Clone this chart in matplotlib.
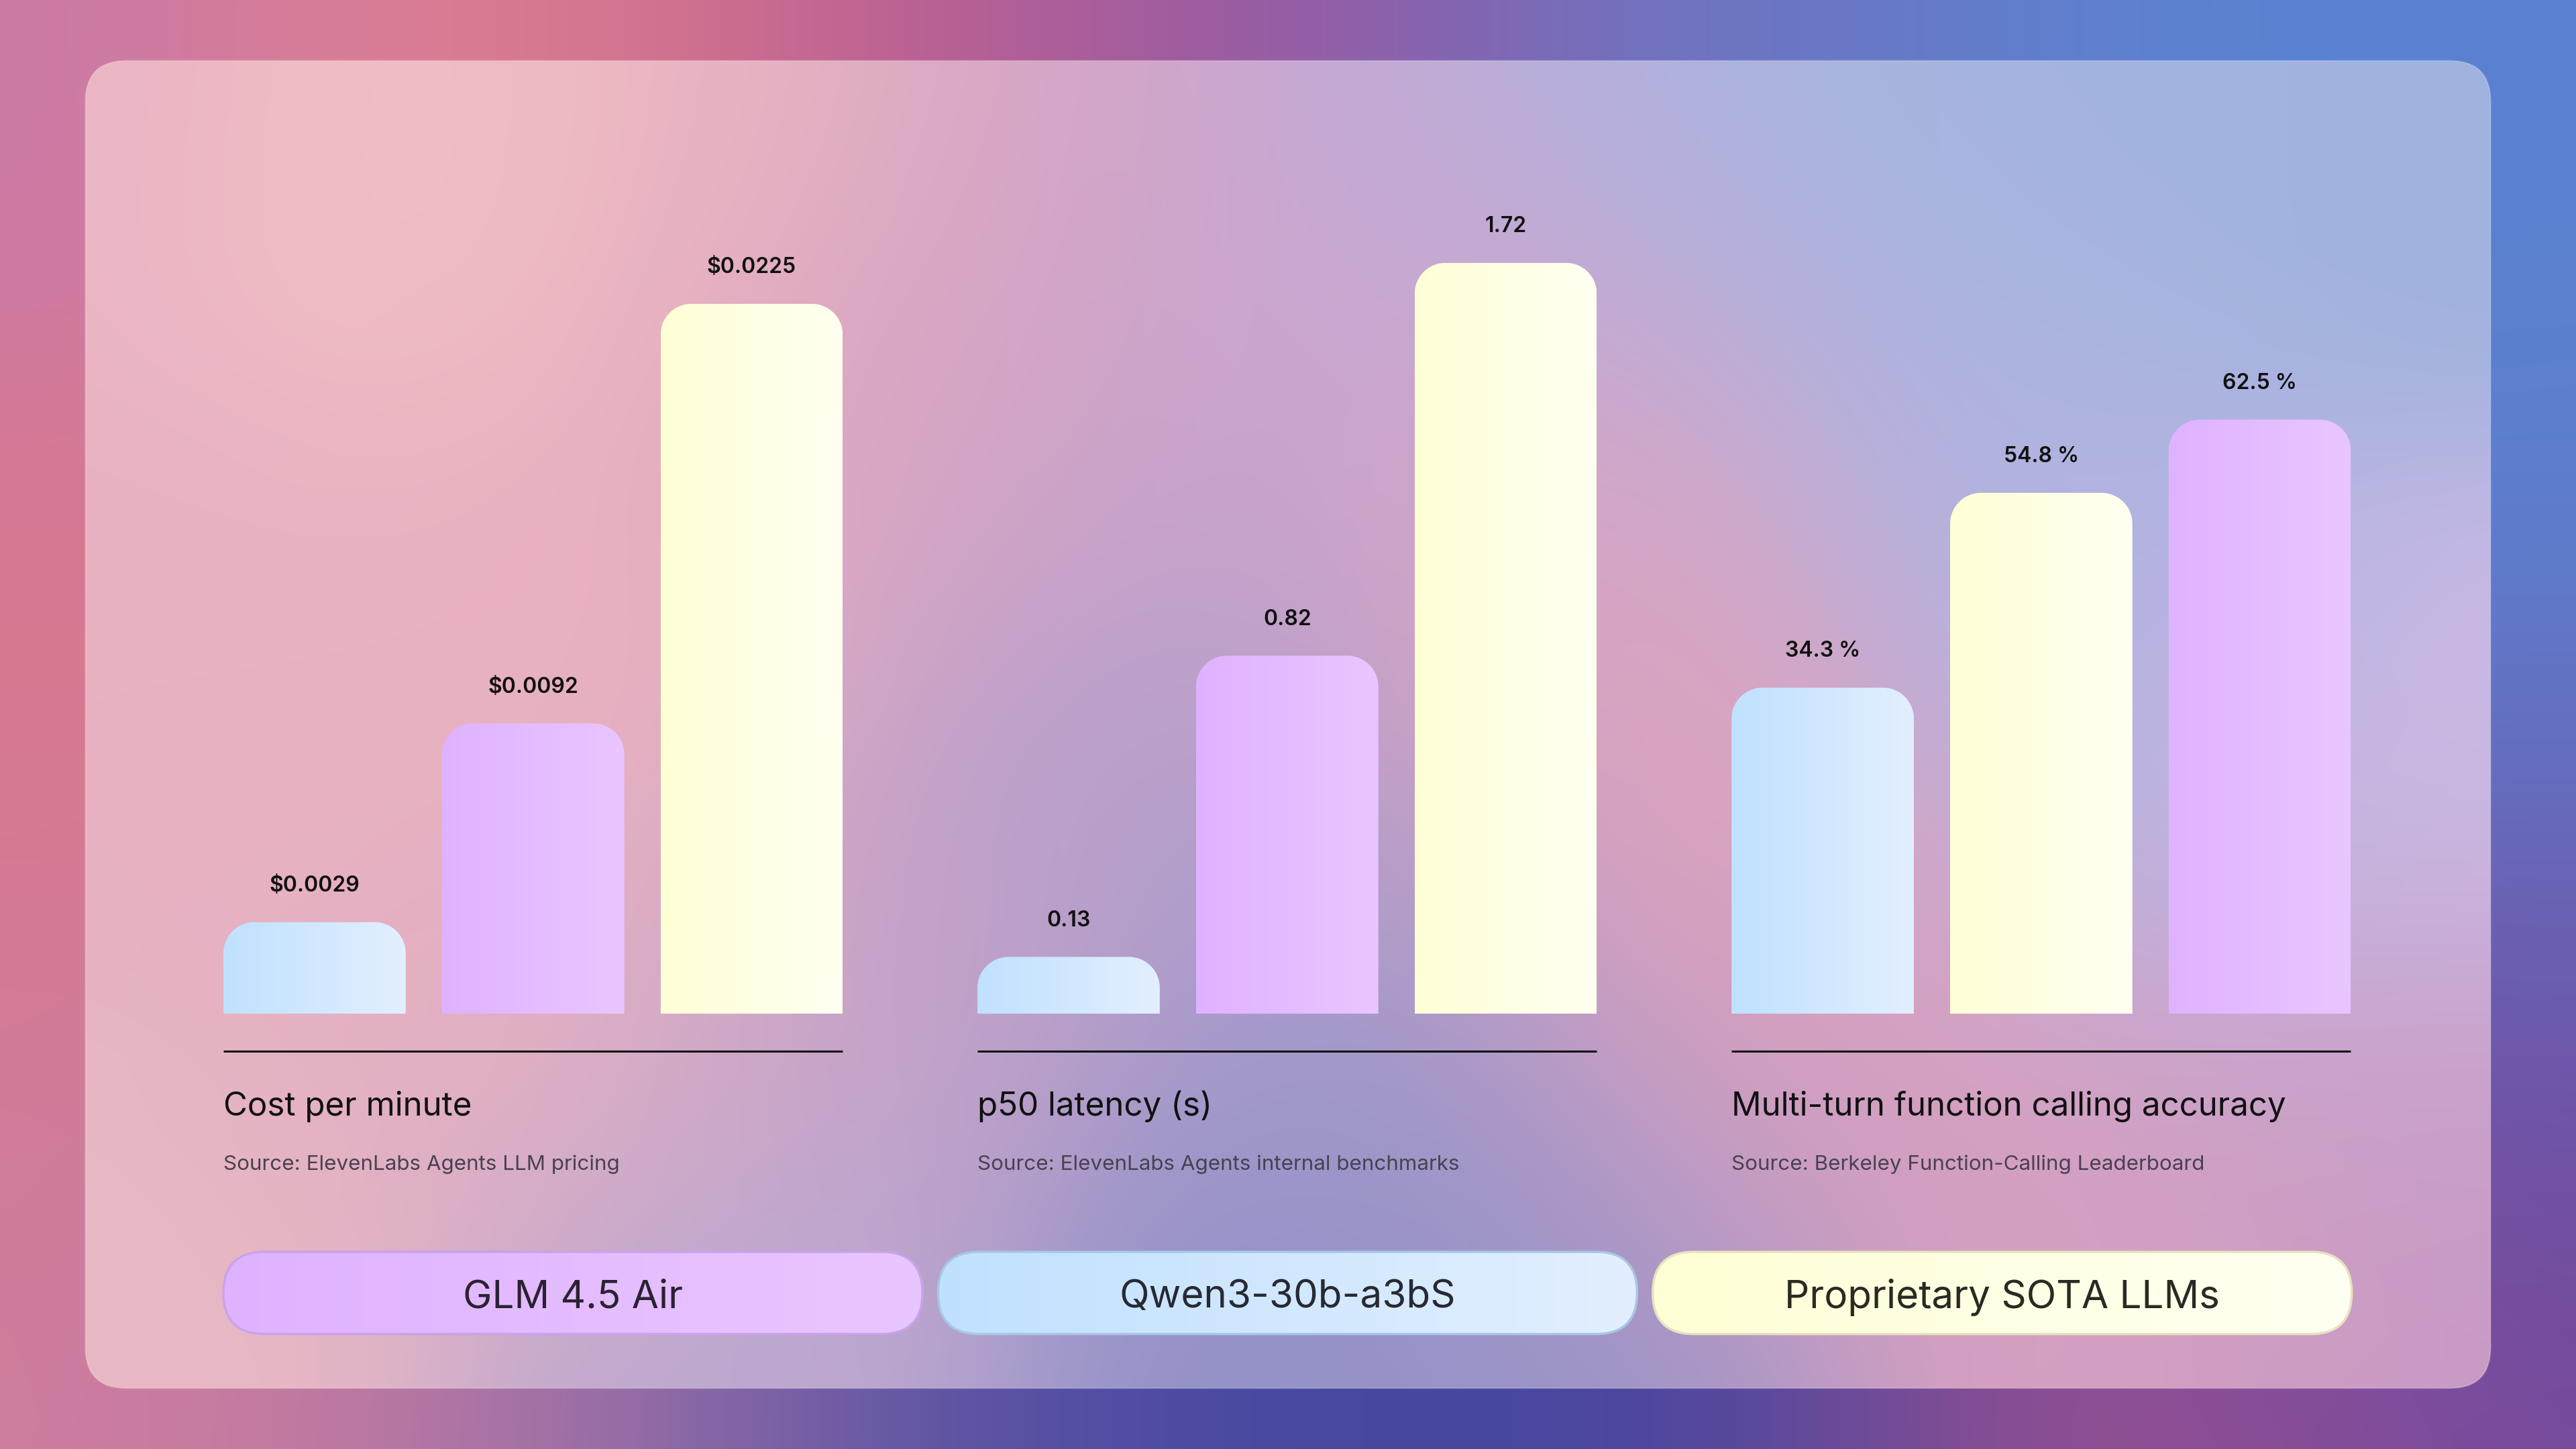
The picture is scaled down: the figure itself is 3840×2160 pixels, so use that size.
import numpy as np
import matplotlib
matplotlib.use("Agg")
import matplotlib.pyplot as plt
from matplotlib.patches import FancyBboxPatch, PathPatch
from matplotlib.path import Path
from matplotlib.colors import to_rgb

# ---------------- data ----------------
models = ["GLM 4.5 Air", "Qwen3-30b-a3bS", "Proprietary SOTA LLMs"]

metric_titles = ["Cost per minute", "p50 latency (s)", "Multi-turn function calling accuracy"]
metric_sources = ["Source: ElevenLabs Agents LLM pricing",
                  "Source: ElevenLabs Agents internal benchmarks",
                  "Source: Berkeley Function-Calling Leaderboard"]

cost_models = ["Qwen3-30b-a3bS", "GLM 4.5 Air", "Proprietary SOTA LLMs"]
cost_values = [0.0029, 0.0092, 0.0225]
cost_labels = ["$0.0029", "$0.0092", "$0.0225"]

latency_models = ["Qwen3-30b-a3bS", "GLM 4.5 Air", "Proprietary SOTA LLMs"]
latency_values = [0.13, 0.82, 1.72]
latency_labels = ["0.13", "0.82", "1.72"]

accuracy_models = ["Qwen3-30b-a3bS", "Proprietary SOTA LLMs", "GLM 4.5 Air"]
accuracy_values = [34.3, 54.8, 62.5]
accuracy_labels = ["34.3 %", "54.8 %", "62.5 %"]

axis_max = [0.0238, 1.72, 79.0]

# ---------------- style ----------------
model_colors = {
    "GLM 4.5 Air": ("#dfb2ff", "#e9c6ff"),
    "Qwen3-30b-a3bS": ("#c0e1ff", "#e3effe"),
    "Proprietary SOTA LLMs": ("#ffffd6", "#fffff2"),
}
pill_edges = {
    "GLM 4.5 Air": "#c9a3ea",
    "Qwen3-30b-a3bS": "#a9c6e6",
    "Proprietary SOTA LLMs": "#e6e2bf",
}
pill_text = {
    "GLM 4.5 Air": "#2a2233",
    "Qwen3-30b-a3bS": "#262a33",
    "Proprietary SOTA LLMs": "#2a2a22",
}

FONT = ["Inter", "DejaVu Sans"]
plt.rcParams["font.family"] = FONT

W, H = 3840, 2160
S = W / 1568.0  # layout unit conversion

fig = plt.figure(figsize=(W / 100, H / 100), dpi=100)
bg = fig.add_axes([0, 0, 1, 1])
bg.set_xlim(0, W)
bg.set_ylim(H, 0)
bg.axis("off")


def field(points, nx, ny, sigma):
    xs = np.linspace(0, 1568, nx)
    ys = np.linspace(0, 882, ny)
    X, Y = np.meshgrid(xs, ys)
    num = np.zeros((ny, nx, 3))
    den = np.zeros((ny, nx))
    for (px, py, c) in points:
        w = np.exp(-((X - px) ** 2 + (Y - py) ** 2) / (2 * sigma ** 2)) + 1e-12
        num += w[..., None] * np.array(to_rgb(c))
        den += w
    return np.clip(num / den[..., None], 0, 1)


outer_pts = [
    (0, 0, "#c87aa8"), (300, 0, "#e08090"), (560, 0, "#c2608c"),
    (760, 0, "#9058a8"), (1050, 0, "#6a78c4"), (1400, 0, "#5a82d2"),
    (1568, 0, "#5a82d2"), (0, 440, "#d87890"), (1568, 300, "#5c80d0"),
    (1568, 560, "#6a68b8"), (1568, 760, "#6a48a0"),
    (0, 700, "#d47c98"), (0, 882, "#d080a0"), (120, 882, "#cc7ca0"),
    (330, 882, "#9a70a8"), (600, 882, "#5c54a4"), (800, 882, "#4044a0"),
    (1000, 882, "#4a48a0"), (1300, 882, "#a0508e"), (1568, 882, "#7a4a9c"),
]
inner_pts = [
    (60, 50, "#eab4c4"), (250, 80, "#f2c0c4"), (450, 60, "#eab4c0"),
    (650, 60, "#d6a4c6"), (850, 60, "#c0acd8"), (1050, 60, "#a8b4e0"),
    (1300, 60, "#a2b4e0"), (1480, 80, "#a0b2de"),
    (80, 400, "#e8b2c2"), (330, 380, "#eab2c0"), (560, 250, "#dea6c0"),
    (720, 440, "#b4a0cc"), (700, 250, "#c6a2cc"), (880, 230, "#caa8d2"),
    (960, 330, "#dca4c0"), (1020, 480, "#e0a2bc"), (1080, 650, "#d8a0c0"),
    (1200, 250, "#aeb4e2"), (1300, 420, "#b4b2e0"), (1460, 470, "#ccbae4"),
    (1460, 700, "#c8a0c8"), (1300, 800, "#d8a0c0"), (1480, 830, "#c898c4"),
    (80, 820, "#e8b8c4"), (300, 620, "#e4b0c2"), (450, 820, "#bca8d0"),
    (780, 800, "#9090c8"), (820, 620, "#a29acc"), (560, 600, "#c6a2c8"),
    (950, 800, "#9a94c8"),
]

outer = field(outer_pts, 196, 110, 150)
bg.imshow(outer, extent=(0, W, H, 0), interpolation="bicubic", aspect="auto", zorder=0)

panel = FancyBboxPatch((52 * S, 37 * S), (1516 - 52) * S, (845 - 37) * S,
                       boxstyle="round,pad=0,rounding_size=%f" % (25 * S),
                       facecolor="none", edgecolor="none", transform=bg.transData)
bg.add_patch(panel)
inner = field(inner_pts, 196, 110, 110)
im = bg.imshow(inner, extent=(0, W, H, 0), interpolation="bicubic", aspect="auto", zorder=1)
im.set_clip_path(panel)
border = FancyBboxPatch((52 * S, 37 * S), (1516 - 52) * S, (845 - 37) * S,
                        boxstyle="round,pad=0,rounding_size=%f" % (25 * S),
                        facecolor="none", edgecolor=(1, 1, 1, 0.22), linewidth=1.5,
                        transform=bg.transData, zorder=2)
bg.add_patch(border)


def grad(c0, c1, n=256):
    a = np.array(to_rgb(c0))
    b = np.array(to_rgb(c1))
    t = np.linspace(0, 1, n)[:, None]
    return (a + (b - a) * t)[None, :, :]


def rounded_top_path(x, w, h, rx, ry):
    ry = min(ry, h)
    k = 0.5523
    verts = [(x, 0), (x, h - ry),
             (x, h - ry + k * ry), (x + rx - k * rx, h), (x + rx, h),
             (x + w - rx, h),
             (x + w - rx + k * rx, h), (x + w, h - ry + k * ry), (x + w, h - ry),
             (x + w, 0), (x, 0)]
    codes = [Path.MOVETO, Path.LINETO,
             Path.CURVE4, Path.CURVE4, Path.CURVE4,
             Path.LINETO,
             Path.CURVE4, Path.CURVE4, Path.CURVE4,
             Path.LINETO, Path.CLOSEPOLY]
    return Path(verts, codes)


groups = [
    (cost_models, cost_values, cost_labels),
    (latency_models, latency_values, latency_labels),
    (accuracy_models, accuracy_values, accuracy_labels),
]

group_x0 = [136 * S, 595 * S, 1054 * S]
group_w = 377 * S
base_y = 617 * S
top_y = 160 * S
bar_w = 0.834
corner_px = 46

for gi, (mods, vals, labs) in enumerate(groups):
    x0 = group_x0[gi]
    ax = fig.add_axes([x0 / W, 1 - base_y / H, group_w / W, (base_y - top_y) / H])
    ax.set_facecolor("none")
    ax.axis("off")
    xl = (-bar_w / 2, 2 + bar_w / 2)
    yl = (0, axis_max[gi])
    bars = ax.bar(range(len(vals)), vals, width=bar_w, color="none", edgecolor="none")
    rx = corner_px * (xl[1] - xl[0]) / group_w
    ry = corner_px * (yl[1] - yl[0]) / (base_y - top_y)
    for b, m, lab in zip(bars, mods, labs):
        x, w, h = b.get_x(), b.get_width(), b.get_height()
        p = PathPatch(rounded_top_path(x, w, h, rx, ry), facecolor="none",
                      edgecolor="none", transform=ax.transData)
        ax.add_patch(p)
        c0, c1 = model_colors[m]
        gim = ax.imshow(grad(c0, c1), extent=(x, x + w, 0, h), aspect="auto",
                        interpolation="bilinear", zorder=2)
        gim.set_clip_path(p)
        ax.annotate(lab, xy=(x + w / 2, h), xytext=(0, 39), textcoords="offset points",
                    ha="center", va="center", fontsize=23, fontweight="semibold",
                    color="#111111", zorder=3)
    ax.set_xlim(*xl)
    ax.set_ylim(*yl)

    # underline, title, source
    bg.plot([x0, x0 + group_w], [640 * S, 640 * S], color="#141414", lw=2.2,
            solid_capstyle="butt", zorder=3)
    bg.text(x0, 672 * S + 4, metric_titles[gi], fontsize=35.5, color="#111111",
            ha="left", va="center", zorder=3)
    bg.text(x0, 707.5 * S + 3, metric_sources[gi], fontsize=22.6, color="#4a4152",
            ha="left", va="center", zorder=3)

# legend pills
pill_x0 = [136 * S, 571 * S, 1006 * S]
pill_w = 425.5 * S
pill_y0 = 762 * S
pill_h = 50 * S
for m, px in zip(models, pill_x0):
    c0, c1 = model_colors[m]
    pp = FancyBboxPatch((px, pill_y0), pill_w, pill_h,
                        boxstyle="round,pad=0,rounding_size=%f" % (pill_h / 2),
                        facecolor="none", edgecolor=pill_edges[m], linewidth=2.5,
                        transform=bg.transData, zorder=5)
    bg.add_patch(pp)
    gim = bg.imshow(grad(c0, c1), extent=(px, px + pill_w, pill_y0 + pill_h, pill_y0),
                    aspect="auto", interpolation="bilinear", zorder=4)
    gim.set_clip_path(pp)
    bg.text(px + pill_w / 2, pill_y0 + pill_h / 2 + 7, m, fontsize=42, color=pill_text[m],
            ha="center", va="center", zorder=6)

bg.set_xlim(0, W)
bg.set_ylim(H, 0)

fig.savefig("out.png", dpi=100)
